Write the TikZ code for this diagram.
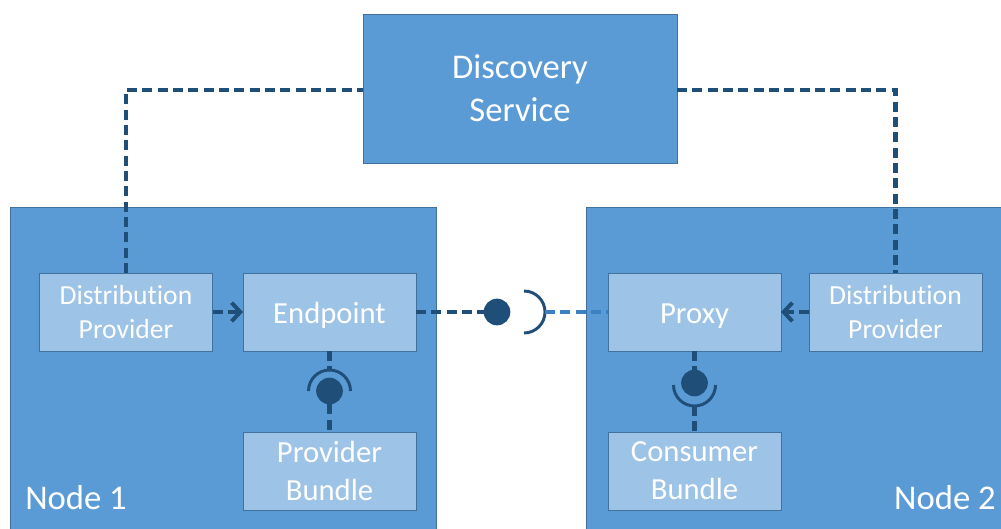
\documentclass[tikz,border=0pt]{standalone}
\usepackage{fontspec}
\setmainfont{Carlito}[Ligatures=NoCommon]
\usetikzlibrary{arrows.meta}
\definecolor{nodeblue}{HTML}{5B9BD5}
\definecolor{boxline}{HTML}{41719C}
\definecolor{innerblue}{HTML}{9DC3E6}
\definecolor{darkline}{HTML}{1F4E79}
\definecolor{lightline}{HTML}{3A80C2}
\begin{document}
\begin{tikzpicture}[x=0.75pt,y=-0.75pt,
  hostbox/.style={draw=boxline, line width=0.75pt, fill=nodeblue, inner sep=0pt, outer sep=0pt},
  compbox/.style={draw=boxline, line width=0.75pt, fill=innerblue, inner sep=0pt, outer sep=0pt,
    minimum width=129.75pt, minimum height=58.5pt, text=white, align=center,
    font=\fontsize{23}{28.5}\selectfont},
  onebox/.style={compbox, text depth=0pt, text height=16.5pt},
  dpbox/.style={compbox, font=\fontsize{20.7}{25}\selectfont},
  link/.style={draw=darkline, line width=3.2pt, dash pattern=on 7.5pt off 4pt},
  lightlink/.style={draw=lightline, line width=3.2pt, dash pattern=on 7.5pt off 4pt},
  ball/.style={circle, fill=darkline, minimum size=20pt, inner sep=0pt, outer sep=0pt},
  socket/.style={draw=darkline, line width=2.2pt},
  tipped/.style={-{Straight Barb[length=6.5pt,width=14pt,line width=3pt]}},
  hostlabel/.style={text=white, font=\fontsize{26}{30}\selectfont, inner sep=0pt, anchor=base west}
]
\clip (0,0) rectangle (1001,529);
\fill[white] (0,0) rectangle (1001,529);

% host nodes
\node[hostbox, minimum width=319.5pt, minimum height=249.75pt] (host1) at (223,373.5) {};
\node[hostbox, minimum width=325.5pt, minimum height=249.75pt] (host2) at (803,373.5) {};
\node[hostlabel] (h1lab) at (25,509) {Node 1};
\node[hostlabel, anchor=base east] (h2lab) at (996,509) {Node 2};

% discovery service
\node[hostbox, minimum width=235.5pt, minimum height=111.75pt, text=white, align=center,
  font=\fontsize{26}{32.5}\selectfont] (disc) at (520,88.5) {Discovery\\Service};

% components
\node[dpbox] (dp1) at (126,312) {Distribution\\Provider};
\node[onebox] (ep) at (329.5,312) {Endpoint};
\node[compbox] (pb) at (329.5,471) {Provider\\Bundle};
\node[onebox] (px) at (694.5,312) {Proxy};
\node[compbox] (cb) at (694.5,471) {Consumer\\Bundle};
\node[dpbox] (dp2) at (895.5,312) {Distribution\\Provider};

% discovery links
\draw[link] (dp1.north) -- (dp1.north |- 0,90) -- (disc.west |- 0,90);
\draw[link] (disc.east |- 0,90) -- (dp2.north |- 0,90) -- (dp2.north);

% provider -> endpoint / proxy arrows
\draw[link, tipped] (dp1.east) -- (ep.west);
\draw[link, tipped] (dp2.west) -- (px.east);

% remote interface: ball and socket
\node[ball] (b0) at (497,312) {};
\draw[link] (ep.east) -- (b0.west);
\coordinate (s0top) at (524,291);
\coordinate (s0out) at (545,312);
\draw[socket] (s0top) arc[start angle=90, end angle=-90, radius=15.75pt];
\draw[lightlink] (s0out) -- (px.west);

% endpoint - provider bundle
\node[ball] (b1) at (329.5,391) {};
\coordinate (s1left) at (308.5,391);
\coordinate (s1top) at (329.5,370);
\draw[socket] (s1left) arc[start angle=180, end angle=0, radius=15.75pt];
\draw[link] (ep.south) -- (s1top);
\draw[link] (b1.south) -- (pb.north);

% proxy - consumer bundle
\node[ball] (b2) at (694.5,383) {};
\coordinate (s2left) at (673.5,385);
\coordinate (s2bot) at (694.5,406);
\draw[socket] (s2left) arc[start angle=180, end angle=360, radius=15.75pt];
\draw[link] (px.south) -- (b2.north);
\draw[link] (s2bot) -- (cb.north);
\end{tikzpicture}
\end{document}
